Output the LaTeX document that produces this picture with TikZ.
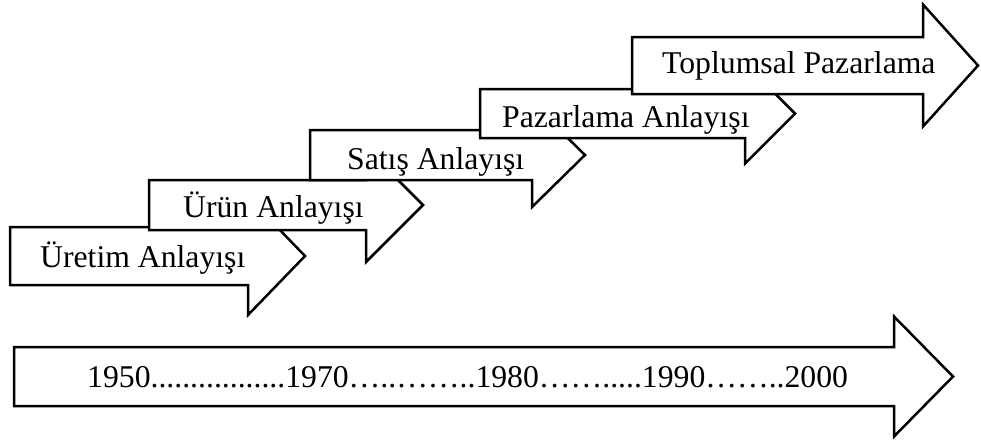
\documentclass[tikz,border=0pt]{standalone}
\usepackage{fontspec}
\setmainfont{Liberation Serif}
\tikzset{
  stage/.style={draw=black, fill=white, line width=2.5pt, line join=miter},
  stagetext/.style={anchor=base west, inner sep=0pt, font=\fontsize{31.7}{38}\selectfont}
}
% block arrow: #1 left x, #2 top y, #3 bottom y, #4 shaft end x, #5 tip x, #6 half height of the head
\newcommand\stagearrow[6]{%
  \path[stage] (#1,#2) -- (#4,#2) -- (#4,{(#2+#3)/2-#6}) -- (#5,{(#2+#3)/2})
    -- (#4,{(#2+#3)/2+#6}) -- (#4,#3) -- (#1,#3) -- cycle;}
\begin{document}
\begin{tikzpicture}[x=1pt, y=-1pt]
  \useasboundingbox (0,0) rectangle (981,440);

  % staircase of marketing concepts, each step drawn over the previous one
  \stagearrow{10}{227}{285}{248}{305}{59}
  \node[stagetext] (uretim) at (40,267) {Üretim Anlayışı};

  \stagearrow{149}{180}{230}{366}{423}{57}
  \node[stagetext] (urun) at (183,217) {Ürün Anlayışı};

  \stagearrow{310}{130}{180}{532}{585}{52}
  \node[stagetext] (satis) at (347,169) {Satış Anlayışı};

  \stagearrow{480}{89}{138}{745}{795}{50}
  \node[stagetext] (pazarlama) at (502,127) {Pazarlama Anlayışı};

  \stagearrow{632}{37}{94}{923}{978}{61}
  \node[stagetext] (toplumsal) at (662,73) {Toplumsal Pazarlama};

  % time line
  \stagearrow{14}{347}{406}{894}{953}{60}
  \node[stagetext] (years) at (87,387) {1950.................1970…..……..1980…….....1990……..2000};
\end{tikzpicture}
\end{document}
